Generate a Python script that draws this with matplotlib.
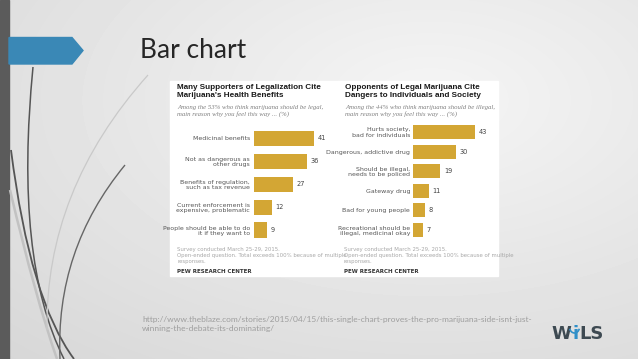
import numpy as np
import matplotlib
matplotlib.use('Agg')
import matplotlib.pyplot as plt
from matplotlib.patches import Rectangle, Polygon, PathPatch, Arc
from matplotlib.path import Path

W, H = 638, 359

# data
left_cats = ['Medicinal benefits', 'Not as dangerous as\nother drugs',
             'Benefits of regulation,\nsuch as tax revenue',
             'Current enforcement is\nexpensive, problematic',
             'People should be able to do\nit if they want to']
left_vals = [41, 36, 27, 12, 9]

right_cats = ['Hurts society,\nbad for individuals', 'Dangerous, addictive drug',
              'Should be illegal,\nneeds to be policed', 'Gateway drug',
              'Bad for young people', 'Recreational should be\nillegal, medicinal okay']
right_vals = [43, 30, 19, 11, 8, 7]

bar_color = '#d3a634'
url = ('http://www.theblaze.com/stories/2015/04/15/this-single-chart-proves-the-pro-marijuana-side-isnt-just-\n'
       'winning-the-debate-its-dominating/')

fig = plt.figure(figsize=(W / 100, H / 100), dpi=100)

# background axes in pixel coords
bg = fig.add_axes([0, 0, 1, 1])
bg.set_xlim(0, W)
bg.set_ylim(H, 0)
bg.axis('off')

yy, xx = np.mgrid[0:H, 0:W]
d = np.sqrt(((xx - 430) / W) ** 2 + ((yy - 100) / H) ** 2)
shade = np.clip(0.96 - 0.12 * d, 0.8, 1)
bg.imshow(shade, cmap='gray', vmin=0, vmax=1, extent=[0, W, H, 0], aspect='auto', zorder=0)

# left strip and arrow
bg.add_patch(Rectangle((0, 0), 9, H, color='#5b5b5b', zorder=2))
bg.add_patch(Polygon([(9, 37.5), (72, 37.5), (83, 50.5), (72, 64), (9, 64)],
                     closed=True, color='#3a88b6', zorder=2))

# decorative curves
curves = [
    ([(33, 67), (14, 260), (64, 359)], '#555555', 1.1),
    ([(11, 150), (30, 300), (74, 359)], '#555555', 1.3),
    ([(10, 190), (36, 300), (57, 359)], '#c2c2c2', 1.8),
    ([(148, 75), (45, 190), (47, 330)], '#c9c9c9', 0.9),
    ([(125, 165), (55, 250), (60, 359)], '#666666', 1.0),
]
for pts, col, lw in curves:
    p = Path(pts, [Path.MOVETO, Path.CURVE3, Path.CURVE3])
    bg.add_patch(PathPatch(p, fill=False, edgecolor=col, lw=lw, zorder=3))

bg.text(140, 58, 'Bar chart', fontsize=19, family='Lato', weight='normal',
        color='#262626', va='baseline', zorder=4)

# white panel
bg.add_patch(Rectangle((170, 81), 328, 195, color='white', zorder=4))

title_kw = dict(fontsize=5.9, weight='bold', family='Liberation Sans', color='#1a1a1a',
                va='top', linespacing=1.2, zorder=5)
sub_kw = dict(fontsize=4.9, style='italic', family='Liberation Serif', color='#808080',
              va='top', linespacing=1.25, zorder=5)
foot_kw = dict(fontsize=3.9, family='DejaVu Sans', color='#a8a8a8', va='top',
               linespacing=1.3, zorder=5)
pew_kw = dict(fontsize=4.0, weight='bold', family='DejaVu Sans', color='#333333',
              va='top', zorder=5)

bg.text(177, 84, "Many Supporters of Legalization Cite\nMarijuana's Health Benefits", **title_kw)
bg.text(177, 105, "Among the 53% who think marijuana should be legal,\nmain reason why you feel this way ... (%)", **sub_kw)
bg.text(177, 247, "Survey conducted March 25-29, 2015.\nOpen-ended question. Total exceeds 100% because of multiple\nresponses.", **foot_kw)
bg.text(177, 269, "PEW RESEARCH CENTER", **pew_kw)

bg.text(345, 84, "Opponents of Legal Marijuana Cite\nDangers to Individuals and Society", **title_kw)
bg.text(345, 105, "Among the 44% who think marijuana should be illegal,\nmain reason why you feel this way ... (%)", **sub_kw)
bg.text(344, 247, "Survey conducted March 25-29, 2015.\nOpen-ended question. Total exceeds 100% because of multiple\nresponses.", **foot_kw)
bg.text(344, 269, "PEW RESEARCH CENTER", **pew_kw)

# url and logo
bg.text(142, 316, url, fontsize=6.0, family='Lato', color='#9e9e9e', va='top',
        linespacing=1.25, zorder=4)
logo_kw = dict(fontsize=13, weight='bold', family='DejaVu Sans', va='baseline', zorder=4)
bg.text(551, 339, 'W', color='#3e4a52', **logo_kw)
bg.text(572, 339, 'i', color='#2f8fc8', **logo_kw)
bg.text(579, 339, 'LS', color='#3e4a52', **logo_kw)
bg.add_patch(Arc((574.5, 327), 10, 12, theta1=20, theta2=160, color='#2f8fc8', lw=1.2, zorder=4))


def px_axes(x0, y0, x1, y1):
    return fig.add_axes([x0 / W, 1 - y1 / H, (x1 - x0) / W, (y1 - y0) / H])


def draw(ax, cats, vals, height, pad, px_per):
    pos = np.arange(len(cats))
    ax.barh(pos, vals, height=height, color=bar_color, zorder=2)
    ax.set_xlim(0, 60)
    ax.set_ylim(len(cats) - 0.5, -0.5)
    ax.set_yticks(pos)
    ax.set_yticklabels(cats, fontsize=4.5, color='#555555', family='DejaVu Sans',
                       linespacing=1.15)
    ax.tick_params(axis='y', length=0, pad=pad)
    ax.set_xticks([])
    for s in ax.spines.values():
        s.set_visible(False)
    ax.patch.set_alpha(0)
    for p, v in zip(pos, vals):
        ax.text(v + 3.5 / px_per, p, str(v), fontsize=4.8, color='#444444',
                family='DejaVu Sans', va='center', ha='left')


axl = px_axes(254, 127, 254 + 60 * 1.46, 241.5)
draw(axl, left_cats, left_vals, 0.66, 3.0, 1.46)

axr = px_axes(413, 122.2, 413 + 60 * 1.44, 239.8)
draw(axr, right_cats, right_vals, 0.71, 2.0, 1.44)

fig.savefig('out.png', dpi=100)
